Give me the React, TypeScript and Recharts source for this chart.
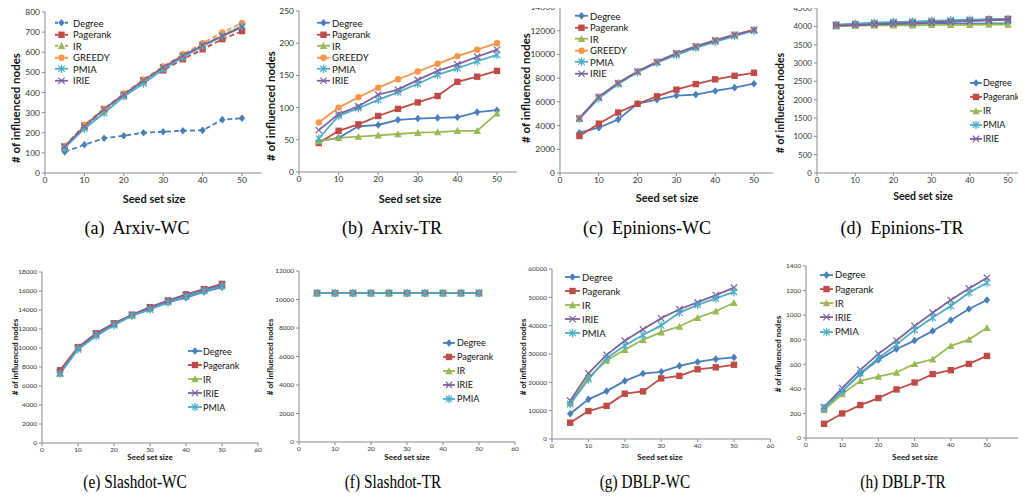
import { LineChart, Line, XAxis, YAxis, Legend } from 'recharts'

const FONT = "Lato, 'Liberation Sans', sans-serif"

const seedSizes = [5, 10, 15, 20, 25, 30, 35, 40, 45, 50]
const xTicksTop = [0, 10, 20, 30, 40, 50]
const xTicksBottom = [0, 10, 20, 30, 40, 50, 60]

// (a) Arxiv-WC
const arxivWcDegree = [105, 140, 173, 185, 200, 205, 210, 212, 265, 272]
const arxivWcPagerank = [130, 235, 315, 385, 460, 510, 565, 615, 665, 705]
const arxivWcIR = [125, 230, 310, 385, 455, 520, 580, 635, 685, 730]
const arxivWcGreedy = [135, 240, 320, 395, 465, 530, 590, 645, 698, 745]
const arxivWcPMIA = [125, 220, 298, 380, 445, 515, 575, 630, 680, 730]
const arxivWcIRIE = [132, 232, 318, 390, 460, 525, 583, 635, 680, 725]
const arxivWcYTicks = [0, 100, 200, 300, 400, 500, 600, 700, 800]

// (b) Arxiv-TR
const arxivTrDegree = [48, 53, 71, 73, 81, 83, 84, 85, 93, 96]
const arxivTrPagerank = [45, 64, 74, 87, 98, 108, 118, 140, 148, 157]
const arxivTrIR = [48, 53, 55, 57, 59, 61, 62, 64, 64, 91]
const arxivTrGreedy = [77, 100, 116, 131, 144, 156, 168, 180, 190, 200]
const arxivTrPMIA = [52, 87, 99, 112, 124, 137, 151, 161, 172, 182]
const arxivTrIRIE = [65, 90, 102, 120, 128, 143, 157, 167, 179, 190]
const arxivTrYTicks = [0, 50, 100, 150, 200, 250]

// (c) Epinions-WC
const epinionsWcDegree = [3400, 3820, 4520, 5860, 6190, 6530, 6610, 6920, 7200, 7530]
const epinionsWcPagerank = [3120, 4160, 5100, 5830, 6470, 7030, 7500, 7900, 8200, 8450]
const epinionsWcIR = [4600, 6400, 7580, 8550, 9360, 10080, 10660, 11170, 11640, 12060]
const epinionsWcGreedy = [4620, 6440, 7600, 8570, 9380, 10110, 10690, 11200, 11670, 12090]
const epinionsWcPMIA = [4580, 6300, 7500, 8500, 9300, 9950, 10550, 11050, 11550, 12000]
const epinionsWcIRIE = [4600, 6420, 7590, 8560, 9370, 10100, 10680, 11190, 11660, 12080]
const epinionsWcYTicks = [0, 2000, 4000, 6000, 8000, 10000, 12000, 14000]

// (d) Epinions-TR
const epinionsTrDegree = [4030, 4040, 4050, 4060, 4060, 4070, 4070, 4070, 4080, 4080]
const epinionsTrPagerank = [4040, 4060, 4080, 4100, 4110, 4130, 4140, 4160, 4190, 4200]
const epinionsTrIR = [4000, 4020, 4030, 4030, 4030, 4040, 4040, 4040, 4050, 4050]
const epinionsTrPMIA = [4040, 4070, 4100, 4120, 4130, 4150, 4170, 4180, 4190, 4200]
const epinionsTrIRIE = [4020, 4030, 4050, 4070, 4080, 4100, 4120, 4140, 4160, 4180]
const epinionsTrYTicks = [0, 500, 1000, 1500, 2000, 2500, 3000, 3500, 4000, 4500]

// (e) Slashdot-WC
const slashdotWcDegree = [7500, 10000, 11400, 12500, 13400, 14100, 14800, 15300, 15900, 16400]
const slashdotWcPagerank = [7650, 10100, 11550, 12600, 13500, 14300, 15000, 15650, 16200, 16750]
const slashdotWcIR = [7300, 10050, 11450, 12500, 13450, 14200, 14900, 15500, 16100, 16600]
const slashdotWcIRIE = [7400, 10000, 11450, 12550, 13500, 14250, 14950, 15550, 16150, 16650]
const slashdotWcPMIA = [7300, 9850, 11250, 12400, 13400, 14050, 14800, 15400, 16000, 16500]
const slashdotWcYTicks = [0, 2000, 4000, 6000, 8000, 10000, 12000, 14000, 16000, 18000]

// (f) Slashdot-TR
const slashdotTrDegree = [10450, 10450, 10450, 10450, 10450, 10450, 10450, 10450, 10450, 10450]
const slashdotTrPagerank = [10450, 10450, 10450, 10450, 10450, 10450, 10450, 10450, 10450, 10450]
const slashdotTrIR = [10450, 10450, 10450, 10450, 10450, 10450, 10450, 10450, 10450, 10450]
const slashdotTrIRIE = [10450, 10450, 10450, 10450, 10450, 10450, 10450, 10450, 10450, 10450]
const slashdotTrPMIA = [10450, 10450, 10450, 10450, 10450, 10450, 10450, 10450, 10450, 10450]
const slashdotTrYTicks = [0, 2000, 4000, 6000, 8000, 10000, 12000]

// (g) DBLP-WC
const dblpWcDegree = [8900, 14000, 16900, 20500, 23100, 23700, 25800, 27200, 28200, 28800]
const dblpWcPagerank = [5750, 9860, 11700, 16000, 16800, 21400, 22300, 24600, 25300, 26200]
const dblpWcIR = [12800, 21700, 27700, 31500, 35000, 37700, 39700, 42800, 45100, 48100]
const dblpWcIRIE = [13500, 23200, 29700, 34700, 38700, 42600, 45800, 48200, 50800, 53400]
const dblpWcPMIA = [12300, 21000, 28500, 33000, 36700, 40100, 44600, 47300, 49600, 51900]
const dblpWcYTicks = [0, 10000, 20000, 30000, 40000, 50000, 60000]

// (h) DBLP-TR
const dblpTrDegree = [244, 379, 522, 636, 725, 793, 871, 958, 1050, 1123]
const dblpTrPagerank = [116, 200, 268, 325, 395, 452, 520, 552, 603, 668]
const dblpTrIR = [230, 357, 465, 500, 533, 603, 641, 750, 801, 898]
const dblpTrIRIE = [252, 406, 555, 685, 793, 912, 1020, 1123, 1217, 1304]
const dblpTrPMIA = [244, 379, 528, 650, 760, 880, 980, 1075, 1183, 1264]
const dblpTrYTicks = [0, 200, 400, 600, 800, 1000, 1200, 1400]

const seriesStyle: Record<string, { color: string; shape: string }> = {
  Degree: { color: '#4A7EBB', shape: 'diamond' },
  Pagerank: { color: '#BE4B48', shape: 'square' },
  IR: { color: '#98B954', shape: 'triangle' },
  GREEDY: { color: '#F79646', shape: 'circle' },
  PMIA: { color: '#4BACC6', shape: 'star' },
  IRIE: { color: '#7D60A0', shape: 'cross' },
}

type Series = { name: string; values: number[]; dashed?: boolean }
type Box = { x: number; y: number; step: number; len: number; gap: number; font: number }
type Title = { x: number; y: number; size: number }
type PanelCfg = {
  id: string
  series: Series[]
  yTicks: number[]
  xTicks: number[]
  xMax: number
  x0: number
  x50: number
  yTop: number
  yZero: number
  tickFont: number
  legend: Box
  yTitle: Title
  xTitle: Title
}

function Marker({ cx, cy, shape, color }: { cx: number; cy: number; shape: string; color: string }) {
  const r = 3.2
  if (shape === 'diamond')
    return <path d={`M${cx} ${cy - r - 0.6}L${cx + r} ${cy}L${cx} ${cy + r + 0.6}L${cx - r} ${cy}Z`} fill={color} />
  if (shape === 'square') return <rect x={cx - r} y={cy - r} width={2 * r} height={2 * r} fill={color} />
  if (shape === 'triangle')
    return <path d={`M${cx} ${cy - r - 0.5}L${cx + r + 0.5} ${cy + r}L${cx - r - 0.5} ${cy + r}Z`} fill={color} />
  if (shape === 'circle') return <circle cx={cx} cy={cy} r={r} fill={color} />
  const xs = `M${cx - r} ${cy - r}L${cx + r} ${cy + r}M${cx - r} ${cy + r}L${cx + r} ${cy - r}`
  const d = shape === 'star' ? `${xs}M${cx} ${cy - r - 1}L${cx} ${cy + r + 1}` : xs
  return <path d={d} stroke={color} strokeWidth={1.2} fill="none" />
}

function LegendBox({ p }: { p: PanelCfg }) {
  const L = p.legend
  return (
    <div style={{ fontFamily: FONT, fontSize: L.font, color: '#111' }}>
      {p.series.map((s) => {
        const st = seriesStyle[s.name]
        return (
          <div key={s.name} style={{ display: 'flex', alignItems: 'center', height: L.step, whiteSpace: 'nowrap' }}>
            <svg width={L.len} height={L.step} style={{ display: 'block' }}>
              <line x1={0} x2={L.len} y1={L.step / 2} y2={L.step / 2} stroke={st.color} strokeWidth={1.8}
                strokeDasharray={s.dashed ? '3 2' : undefined} />
              <Marker cx={L.len / 2} cy={L.step / 2} shape={st.shape} color={st.color} />
            </svg>
            <span style={{ marginLeft: L.gap }}>{s.name}</span>
          </div>
        )
      })}
    </div>
  )
}

function Panel({ p }: { p: PanelCfg }) {
  const yw = 44
  const xh = 24
  const mt = 10
  const mr = 10
  const pxEnd = p.x0 + (p.xMax * (p.x50 - p.x0)) / 50
  const left = p.x0 - yw
  const top = p.yTop - mt
  const width = pxEnd - left + mr
  const height = p.yZero - top + xh
  const rows = seedSizes.map((x, i) => {
    const r: Record<string, number> = { x }
    p.series.forEach((s) => (r[s.name] = s.values[i]))
    return r
  })
  const tick = { fontSize: p.tickFont, fill: '#333', fontFamily: FONT }
  const yMax = p.yTicks[p.yTicks.length - 1]
  return (
    <>
      <div style={{ position: 'absolute', left, top }}>
        <LineChart width={width} height={height} data={rows} margin={{ top: mt, right: mr, bottom: 0, left: 0 }}>
          <XAxis dataKey="x" type="number" domain={[0, p.xMax]} ticks={p.xTicks} interval={0} height={xh}
            tickSize={3} tickMargin={1} stroke="#8a8a8a" tick={tick} allowDataOverflow />
          <YAxis type="number" domain={[0, yMax]} ticks={p.yTicks} interval={0} width={yw}
            tickSize={3} tickMargin={2} stroke="#8a8a8a" tick={tick} />
          <Legend layout="vertical" align="center" verticalAlign="middle"
            wrapperStyle={{ left: p.legend.x - left, top: p.legend.y - p.legend.step / 2 - top, width: 90, height: 'auto' }}
            content={() => <LegendBox p={p} />} />
          {p.series.map((s) => {
            const st = seriesStyle[s.name]
            return (
              <Line key={s.name} dataKey={s.name} stroke={st.color} strokeWidth={1.8}
                strokeDasharray={s.dashed ? '5 3' : undefined} isAnimationActive={false}
                dot={(d: any) => <Marker key={`${s.name}-${d.index}`} cx={d.cx} cy={d.cy} shape={st.shape} color={st.color} />} />
            )
          })}
        </LineChart>
      </div>
      <div style={{ position: 'absolute', left: p.yTitle.x, top: p.yTitle.y, transform: 'translate(-50%, -50%) rotate(-90deg)',
        whiteSpace: 'nowrap', fontFamily: FONT, fontWeight: 'bold', fontSize: p.yTitle.size, color: '#111' }}>
        # of influenced nodes
      </div>
      <div style={{ position: 'absolute', left: p.xTitle.x, top: p.xTitle.y, transform: 'translate(-50%, -50%)',
        whiteSpace: 'nowrap', fontFamily: FONT, fontWeight: 'bold', fontSize: p.xTitle.size, color: '#111' }}>
        Seed set size
      </div>
    </>
  )
}

const topLegend = (x: number, y: number, gap: number): Box => ({ x, y, step: 11.5, len: 13, gap, font: 9.5 })

const panels: PanelCfg[] = [
  {
    id: 'a', xTicks: xTicksTop, xMax: 55, x0: 45, x50: 242, yTop: 12, yZero: 173, tickFont: 8.5, yTicks: arxivWcYTicks,
    series: [
      { name: 'Degree', values: arxivWcDegree, dashed: true },
      { name: 'Pagerank', values: arxivWcPagerank, dashed: true },
      { name: 'IR', values: arxivWcIR, dashed: true },
      { name: 'GREEDY', values: arxivWcGreedy, dashed: true },
      { name: 'PMIA', values: arxivWcPMIA },
      { name: 'IRIE', values: arxivWcIRIE },
    ],
    legend: topLegend(55, 23, 5), yTitle: { x: 15, y: 108, size: 11.5 }, xTitle: { x: 154, y: 198, size: 11 },
  },
  {
    id: 'b', xTicks: xTicksTop, xMax: 55, x0: 299, x50: 497, yTop: 11, yZero: 172, tickFont: 8.5, yTicks: arxivTrYTicks,
    series: [
      { name: 'Degree', values: arxivTrDegree },
      { name: 'Pagerank', values: arxivTrPagerank },
      { name: 'IR', values: arxivTrIR },
      { name: 'GREEDY', values: arxivTrGreedy },
      { name: 'PMIA', values: arxivTrPMIA },
      { name: 'IRIE', values: arxivTrIRIE },
    ],
    legend: topLegend(317, 23, 2), yTitle: { x: 270, y: 106, size: 11.5 }, xTitle: { x: 410, y: 198, size: 11 },
  },
  {
    id: 'c', xTicks: xTicksTop, xMax: 55, x0: 560, x50: 754, yTop: 7, yZero: 173, tickFont: 8.5, yTicks: epinionsWcYTicks,
    series: [
      { name: 'Degree', values: epinionsWcDegree },
      { name: 'Pagerank', values: epinionsWcPagerank },
      { name: 'IR', values: epinionsWcIR },
      { name: 'GREEDY', values: epinionsWcGreedy },
      { name: 'PMIA', values: epinionsWcPMIA },
      { name: 'IRIE', values: epinionsWcIRIE },
    ],
    legend: topLegend(575, 16, 2), yTitle: { x: 525, y: 88, size: 11.5 }, xTitle: { x: 667, y: 197, size: 11 },
  },
  {
    id: 'd', xTicks: xTicksTop, xMax: 55, x0: 817, x50: 1008, yTop: 8, yZero: 173, tickFont: 8, yTicks: epinionsTrYTicks,
    series: [
      { name: 'Degree', values: epinionsTrDegree },
      { name: 'Pagerank', values: epinionsTrPagerank },
      { name: 'IR', values: epinionsTrIR },
      { name: 'PMIA', values: epinionsTrPMIA },
      { name: 'IRIE', values: epinionsTrIRIE },
    ],
    legend: { x: 970, y: 83, step: 13.9, len: 12, gap: 1, font: 9 },
    yTitle: { x: 780, y: 103, size: 10.5 }, xTitle: { x: 923, y: 196, size: 10.5 },
  },
  {
    id: 'e', xTicks: xTicksBottom, xMax: 60, x0: 42, x50: 222, yTop: 272, yZero: 443, tickFont: 6.5, yTicks: slashdotWcYTicks,
    series: [
      { name: 'Degree', values: slashdotWcDegree },
      { name: 'Pagerank', values: slashdotWcPagerank },
      { name: 'IR', values: slashdotWcIR },
      { name: 'IRIE', values: slashdotWcIRIE },
      { name: 'PMIA', values: slashdotWcPMIA },
    ],
    legend: { x: 188, y: 351, step: 14, len: 14, gap: 1, font: 9 },
    yTitle: { x: 15, y: 357, size: 8 }, xTitle: { x: 150, y: 457, size: 8 },
  },
  {
    id: 'f', xTicks: xTicksBottom, xMax: 60, x0: 299, x50: 479, yTop: 271, yZero: 442, tickFont: 6.5, yTicks: slashdotTrYTicks,
    series: [
      { name: 'Degree', values: slashdotTrDegree },
      { name: 'Pagerank', values: slashdotTrPagerank },
      { name: 'IR', values: slashdotTrIR },
      { name: 'IRIE', values: slashdotTrIRIE },
      { name: 'PMIA', values: slashdotTrPMIA },
    ],
    legend: { x: 443, y: 343, step: 13.9, len: 12, gap: 2, font: 9 },
    yTitle: { x: 270, y: 357, size: 8 }, xTitle: { x: 407, y: 457, size: 8 },
  },
  {
    id: 'g', xTicks: xTicksBottom, xMax: 60, x0: 552, x50: 734, yTop: 269, yZero: 439, tickFont: 6.5, yTicks: dblpWcYTicks,
    series: [
      { name: 'Degree', values: dblpWcDegree },
      { name: 'Pagerank', values: dblpWcPagerank },
      { name: 'IR', values: dblpWcIR },
      { name: 'IRIE', values: dblpWcIRIE },
      { name: 'PMIA', values: dblpWcPMIA },
    ],
    legend: { x: 565, y: 277, step: 14, len: 15, gap: 2, font: 9.5 },
    yTitle: { x: 523, y: 357, size: 8 }, xTitle: { x: 660, y: 457, size: 8 },
  },
  {
    id: 'h', xTicks: xTicksBottom, xMax: 60, x0: 806, x50: 987, yTop: 266, yZero: 438, tickFont: 6.5, yTicks: dblpTrYTicks,
    series: [
      { name: 'Degree', values: dblpTrDegree },
      { name: 'Pagerank', values: dblpTrPagerank },
      { name: 'IR', values: dblpTrIR },
      { name: 'IRIE', values: dblpTrIRIE },
      { name: 'PMIA', values: dblpTrPMIA },
    ],
    legend: { x: 820, y: 275, step: 14.2, len: 13, gap: 2, font: 9.5 },
    yTitle: { x: 778, y: 354, size: 8 }, xTitle: { x: 915, y: 457, size: 8 },
  },
]

const captions = [
  { text: '(a)\u00a0 Arxiv-WC', x: 137, y: 228, narrow: false },
  { text: '(b)\u00a0 Arxiv-TR', x: 392, y: 228, narrow: false },
  { text: '(c)\u00a0 Epinions-WC', x: 647, y: 228, narrow: false },
  { text: '(d)\u00a0 Epinions-TR', x: 902, y: 228, narrow: false },
  { text: '(e) Slashdot-WC', x: 135, y: 482, narrow: true },
  { text: '(f) Slashdot-TR', x: 393, y: 482, narrow: true },
  { text: '(g) DBLP-WC', x: 645, y: 482, narrow: true },
  { text: '(h) DBLP-TR', x: 903, y: 482, narrow: true },
]

export default function App() {
  return (
    <div style={{ position: 'relative', width: 1026, height: 499, margin: '-8px 0 0 -8px', overflow: 'hidden', background: '#fff' }}>
      {panels.map((p) => (
        <Panel key={p.id} p={p} />
      ))}
      {captions.map((c) => (
        <div key={c.text} style={{ position: 'absolute', left: c.x, top: c.y,
          transform: `translate(-50%, -50%)${c.narrow ? ' scaleX(0.85)' : ''}`, whiteSpace: 'nowrap',
          fontFamily: "'Liberation Serif', 'Times New Roman', serif", fontSize: 18, color: '#000' }}>
          {c.text}
        </div>
      ))}
    </div>
  )
}
